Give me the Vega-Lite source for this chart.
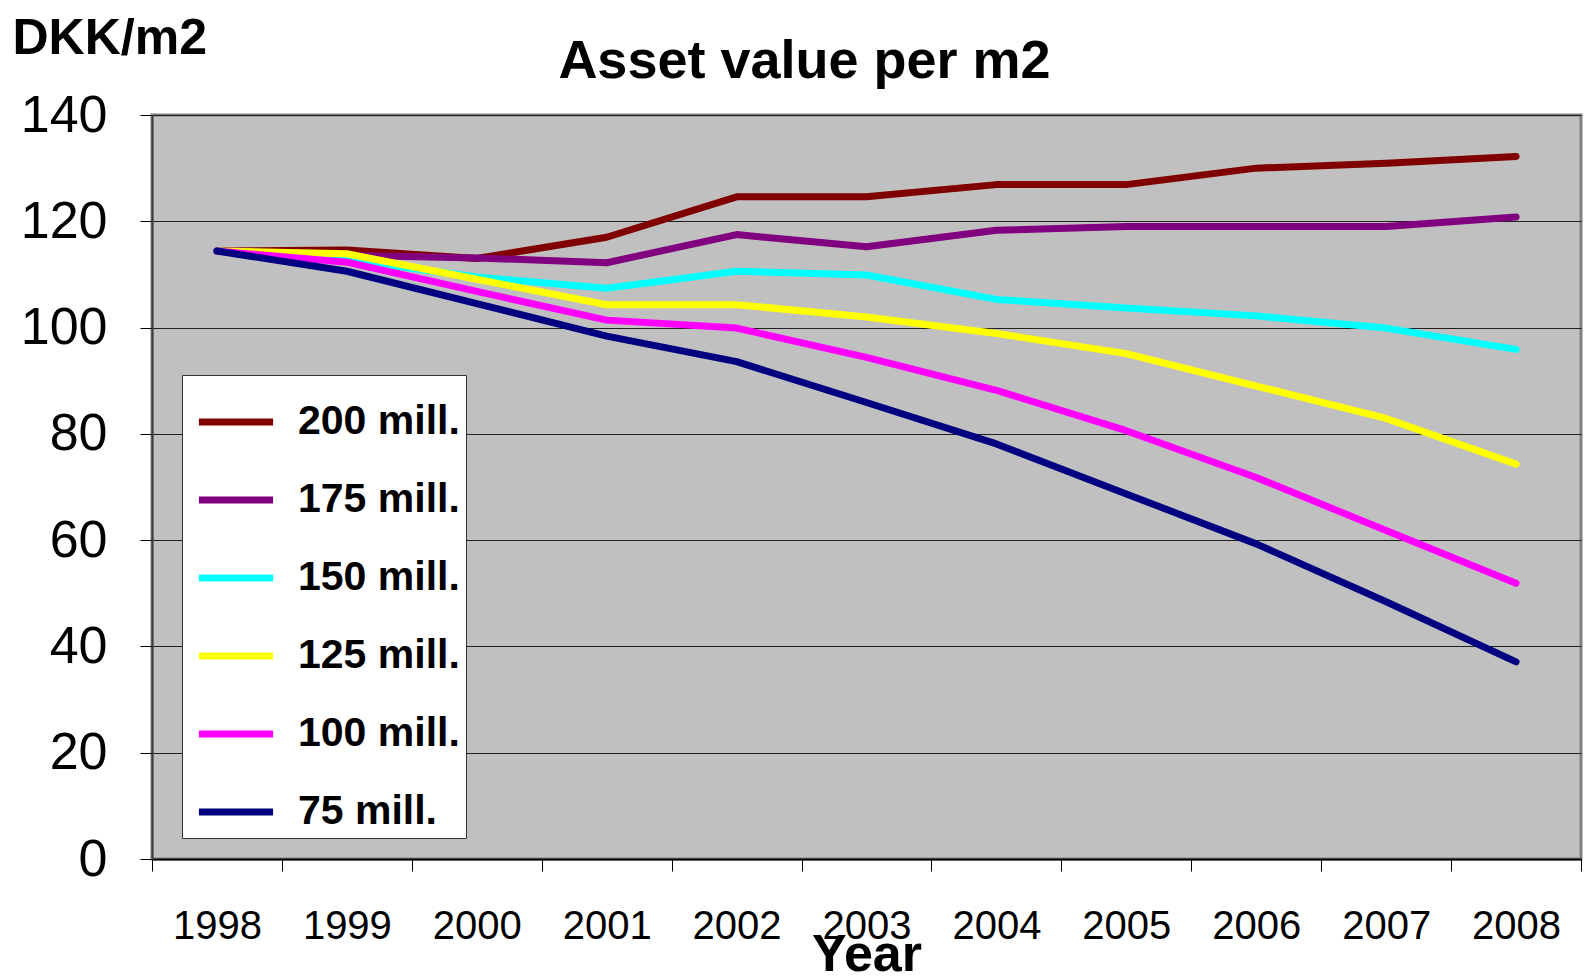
{
  "$schema": "https://vega.github.io/schema/vega-lite/v6.json",
  "width": 1429,
  "height": 744,
  "autosize": {"type": "none"},
  "padding": {"left": 152, "top": 115, "right": 13, "bottom": 120},
  "background": "white",
  "title": {
    "text": "Asset value per m2",
    "font": "Liberation Sans",
    "fontSize": 54,
    "fontWeight": "bold",
    "color": "black",
    "anchor": "middle",
    "baseline": "alphabetic",
    "dx": -62,
    "dy": 119,
    "offset": 0
  },
  "data": {"values": [
    {"year": "1998", "series": "200 mill.", "value": 114.4},
    {"year": "1999", "series": "200 mill.", "value": 114.6},
    {"year": "2000", "series": "200 mill.", "value": 113.0},
    {"year": "2001", "series": "200 mill.", "value": 117.0},
    {"year": "2002", "series": "200 mill.", "value": 124.6},
    {"year": "2003", "series": "200 mill.", "value": 124.6},
    {"year": "2004", "series": "200 mill.", "value": 126.9},
    {"year": "2005", "series": "200 mill.", "value": 126.9},
    {"year": "2006", "series": "200 mill.", "value": 130.0},
    {"year": "2007", "series": "200 mill.", "value": 130.9},
    {"year": "2008", "series": "200 mill.", "value": 132.2},
    {"year": "1998", "series": "175 mill.", "value": 114.4},
    {"year": "1999", "series": "175 mill.", "value": 113.6},
    {"year": "2000", "series": "175 mill.", "value": 113.1},
    {"year": "2001", "series": "175 mill.", "value": 112.2},
    {"year": "2002", "series": "175 mill.", "value": 117.5},
    {"year": "2003", "series": "175 mill.", "value": 115.2},
    {"year": "2004", "series": "175 mill.", "value": 118.3},
    {"year": "2005", "series": "175 mill.", "value": 119.0},
    {"year": "2006", "series": "175 mill.", "value": 119.0},
    {"year": "2007", "series": "175 mill.", "value": 119.0},
    {"year": "2008", "series": "175 mill.", "value": 120.8},
    {"year": "1998", "series": "150 mill.", "value": 114.4},
    {"year": "1999", "series": "150 mill.", "value": 112.8},
    {"year": "2000", "series": "150 mill.", "value": 109.5},
    {"year": "2001", "series": "150 mill.", "value": 107.4},
    {"year": "2002", "series": "150 mill.", "value": 110.6},
    {"year": "2003", "series": "150 mill.", "value": 109.9},
    {"year": "2004", "series": "150 mill.", "value": 105.3},
    {"year": "2005", "series": "150 mill.", "value": 103.7},
    {"year": "2006", "series": "150 mill.", "value": 102.2},
    {"year": "2007", "series": "150 mill.", "value": 99.9},
    {"year": "2008", "series": "150 mill.", "value": 95.9},
    {"year": "1998", "series": "125 mill.", "value": 114.4},
    {"year": "1999", "series": "125 mill.", "value": 113.9},
    {"year": "2000", "series": "125 mill.", "value": 109.1},
    {"year": "2001", "series": "125 mill.", "value": 104.3},
    {"year": "2002", "series": "125 mill.", "value": 104.3},
    {"year": "2003", "series": "125 mill.", "value": 102.0},
    {"year": "2004", "series": "125 mill.", "value": 98.9},
    {"year": "2005", "series": "125 mill.", "value": 95.1},
    {"year": "2006", "series": "125 mill.", "value": 89.0},
    {"year": "2007", "series": "125 mill.", "value": 82.9},
    {"year": "2008", "series": "125 mill.", "value": 74.3},
    {"year": "1998", "series": "100 mill.", "value": 114.4},
    {"year": "1999", "series": "100 mill.", "value": 112.3},
    {"year": "2000", "series": "100 mill.", "value": 106.8},
    {"year": "2001", "series": "100 mill.", "value": 101.4},
    {"year": "2002", "series": "100 mill.", "value": 99.9},
    {"year": "2003", "series": "100 mill.", "value": 94.4},
    {"year": "2004", "series": "100 mill.", "value": 88.2},
    {"year": "2005", "series": "100 mill.", "value": 80.6},
    {"year": "2006", "series": "100 mill.", "value": 71.8},
    {"year": "2007", "series": "100 mill.", "value": 61.8},
    {"year": "2008", "series": "100 mill.", "value": 51.9},
    {"year": "1998", "series": "75 mill.", "value": 114.4},
    {"year": "1999", "series": "75 mill.", "value": 110.6},
    {"year": "2000", "series": "75 mill.", "value": 104.5},
    {"year": "2001", "series": "75 mill.", "value": 98.4},
    {"year": "2002", "series": "75 mill.", "value": 93.6},
    {"year": "2003", "series": "75 mill.", "value": 85.9},
    {"year": "2004", "series": "75 mill.", "value": 78.1},
    {"year": "2005", "series": "75 mill.", "value": 68.7},
    {"year": "2006", "series": "75 mill.", "value": 59.3},
    {"year": "2007", "series": "75 mill.", "value": 48.4},
    {"year": "2008", "series": "75 mill.", "value": 37.1}
  ]},
  "mark": {"type": "line", "strokeWidth": 7, "strokeCap": "round", "strokeJoin": "round"},
  "encoding": {
    "x": {
      "field": "year",
      "type": "ordinal",
      "scale": {"type": "band", "paddingInner": 0, "paddingOuter": 0},
      "axis": {
        "title": "Year",
        "titleFont": "Liberation Sans",
        "titleFontSize": 52,
        "titleFontWeight": "bold",
        "titleColor": "black",
        "titleBaseline": "top",
        "titleY": 70,
        "labelAngle": 0,
        "labelFont": "Liberation Sans",
        "labelFontSize": 40,
        "labelColor": "black",
        "labelBaseline": "middle",
        "labelPadding": 55,
        "tickBand": "extent",
        "tickSize": 12,
        "tickColor": "black",
        "tickWidth": 1,
        "domainColor": "black",
        "domainWidth": 2,
        "grid": false
      }
    },
    "y": {
      "field": "value",
      "type": "quantitative",
      "scale": {"domain": [0, 140], "nice": false},
      "axis": {
        "values": [0, 20, 40, 60, 80, 100, 120, 140],
        "title": "DKK/m2",
        "titleFont": "Liberation Sans",
        "titleFontSize": 50,
        "titleFontWeight": "bold",
        "titleColor": "black",
        "titleAngle": 0,
        "titleAlign": "left",
        "titleBaseline": "alphabetic",
        "titleX": -140,
        "titleY": -62,
        "labelFont": "Liberation Sans",
        "labelFontSize": 52,
        "labelColor": "black",
        "labelPadding": 33,
        "tickSize": 12,
        "tickColor": "black",
        "domainColor": "#404040",
        "domainWidth": 2,
        "grid": true,
        "gridColor": "#202020",
        "gridWidth": 1
      }
    },
    "color": {
      "field": "series",
      "type": "nominal",
      "sort": ["200 mill.", "175 mill.", "150 mill.", "125 mill.", "100 mill.", "75 mill."],
      "scale": {
        "domain": ["200 mill.", "175 mill.", "150 mill.", "125 mill.", "100 mill.", "75 mill."],
        "range": ["#800000", "#800080", "#00FFFF", "#FFFF00", "#FF00FF", "#000080"]
      },
      "legend": {
        "title": null,
        "orient": "none",
        "legendX": 30,
        "legendY": 260,
        "fillColor": "white",
        "strokeColor": "#333333",
        "padding": 6,
        "symbolType": "stroke",
        "symbolStrokeWidth": 7,
        "symbolSize": 5500,
        "symbolOffset": 7,
        "labelFont": "Liberation Sans",
        "labelFontSize": 41,
        "labelFontWeight": "bold",
        "labelColor": "black",
        "labelLimit": 400,
        "labelOffset": 21,
        "rowPadding": 17
      }
    }
  },
  "config": {
    "view": {"fill": "#C0C0C0", "stroke": "#808080", "strokeWidth": 3}
  }
}
